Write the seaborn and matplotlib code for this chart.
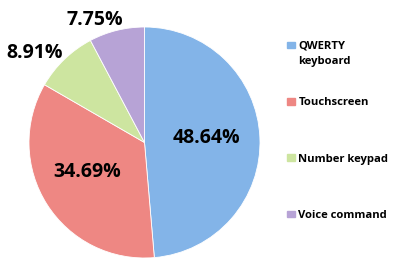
import matplotlib
matplotlib.use("Agg")
import matplotlib.pyplot as plt
from matplotlib.transforms import IdentityTransform
import seaborn as sns
import numpy as np

sns.set_theme(style="white")
plt.rcParams['font.family'] = ['Open Sans', 'DejaVu Sans']

categories = ["QWERTY", "Touchscreen", "Number keypad", "Voice command"]
category_second_line = "keyboard"
values = [48.64, 34.69, 8.91, 7.75]
pct_labels = ["48.64%", "34.69%", "8.91%", "7.75%"]
colors = ["#83b4e8", "#ee8783", "#cde5a0", "#b7a3d6"]
label_r = [0.54, 0.56, 1.23, 1.14]
label_shift = [2, -5, 7, 8]

fig = plt.figure(figsize=(4, 2.7), dpi=100)
ax = fig.add_axes([29/400, 12/270, 231/400, 231/270])
wedges, _ = ax.pie(values, colors=colors, startangle=90, counterclock=False,
                   wedgeprops=dict(linewidth=0.6, edgecolor="white"))
ax.set_xlim(-1, 1)
ax.set_ylim(-1, 1)
ax.set_aspect("equal")

for w, lab, r, s in zip(wedges, pct_labels, label_r, label_shift):
    ang = np.deg2rad((w.theta1 + w.theta2) / 2 + s)
    ax.text(r * np.cos(ang), r * np.sin(ang), lab, ha="center", va="center",
            fontsize=14, fontweight="bold", color="black", clip_on=False)

handles = [plt.Rectangle((0, 0), 1, 1, color=c) for c in colors]
leg = fig.legend(handles, categories, loc="upper left", bbox_to_anchor=(287/400, 1 - 41/270),
                 frameon=False, prop=dict(size=8.1, weight="bold"),
                 handlelength=0.72, handleheight=0.55, handletextpad=0.3,
                 labelspacing=4.03, borderaxespad=0, borderpad=0)
for t in leg.get_texts():
    t.set_color("black")

fig.canvas.draw()
bb = leg.get_texts()[0].get_window_extent()
fig.text(bb.x0, (bb.y0 + bb.y1) / 2 - 15, category_second_line, transform=IdentityTransform(),
         ha="left", va="center", fontsize=8.1, fontweight="bold", color="black")

fig.savefig("out.png", dpi=100)
